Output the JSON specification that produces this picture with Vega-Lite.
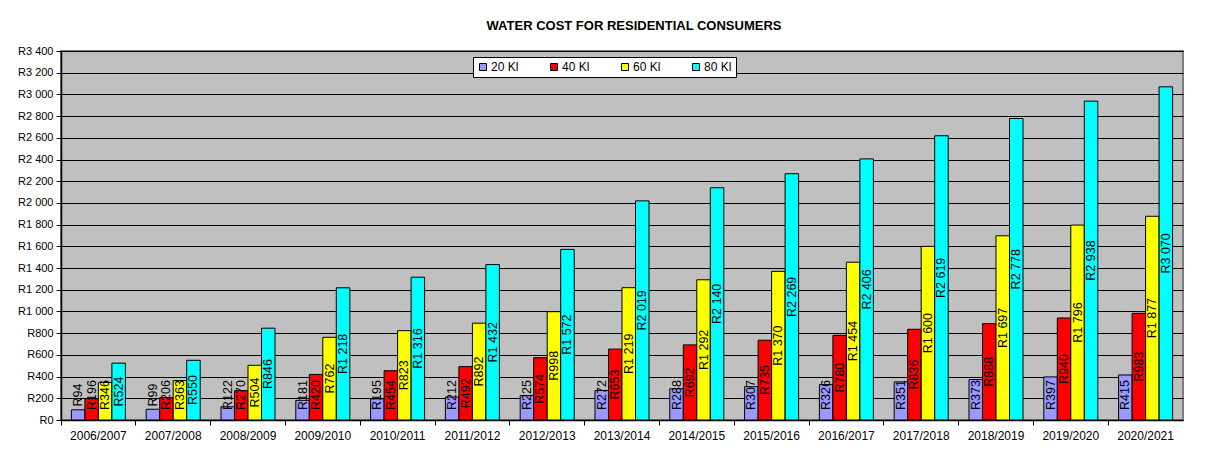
{
  "$schema": "https://vega.github.io/schema/vega-lite/v6.json",
  "width": 1122,
  "height": 369,
  "autosize": {"type": "none"},
  "padding": {"left": 61, "top": 51, "right": 23, "bottom": 44},
  "background": "white",
  "config": {
    "locale": {"number": {"decimal": ".", "thousands": " ", "grouping": [3], "currency": ["R", ""]}},
    "font": "Liberation Sans",
    "view": {"fill": "#C0C0C0", "stroke": "#808080", "strokeWidth": 2},
    "axis": {"labelFont": "Liberation Sans", "labelColor": "black", "domainColor": "black", "tickColor": "black", "domainWidth": 1.5}
  },
  "title": {"text": "WATER COST FOR RESIDENTIAL CONSUMERS", "fontSize": 13, "font": "Liberation Sans", "fontWeight": "bold", "color": "black", "offset": 12, "dx": 12, "anchor": "middle"},
  "data": {"values": [
    {"period": "2006/2007", "series": "20 Kl", "value": 94},
    {"period": "2006/2007", "series": "40 Kl", "value": 196},
    {"period": "2006/2007", "series": "60 Kl", "value": 346},
    {"period": "2006/2007", "series": "80 Kl", "value": 524},
    {"period": "2007/2008", "series": "20 Kl", "value": 99},
    {"period": "2007/2008", "series": "40 Kl", "value": 206},
    {"period": "2007/2008", "series": "60 Kl", "value": 363},
    {"period": "2007/2008", "series": "80 Kl", "value": 550},
    {"period": "2008/2009", "series": "20 Kl", "value": 122},
    {"period": "2008/2009", "series": "40 Kl", "value": 270},
    {"period": "2008/2009", "series": "60 Kl", "value": 504},
    {"period": "2008/2009", "series": "80 Kl", "value": 846},
    {"period": "2009/2010", "series": "20 Kl", "value": 181},
    {"period": "2009/2010", "series": "40 Kl", "value": 420},
    {"period": "2009/2010", "series": "60 Kl", "value": 762},
    {"period": "2009/2010", "series": "80 Kl", "value": 1218},
    {"period": "2010/2011", "series": "20 Kl", "value": 195},
    {"period": "2010/2011", "series": "40 Kl", "value": 454},
    {"period": "2010/2011", "series": "60 Kl", "value": 823},
    {"period": "2010/2011", "series": "80 Kl", "value": 1316},
    {"period": "2011/2012", "series": "20 Kl", "value": 212},
    {"period": "2011/2012", "series": "40 Kl", "value": 492},
    {"period": "2011/2012", "series": "60 Kl", "value": 892},
    {"period": "2011/2012", "series": "80 Kl", "value": 1432},
    {"period": "2012/2013", "series": "20 Kl", "value": 225},
    {"period": "2012/2013", "series": "40 Kl", "value": 574},
    {"period": "2012/2013", "series": "60 Kl", "value": 998},
    {"period": "2012/2013", "series": "80 Kl", "value": 1572},
    {"period": "2013/2014", "series": "20 Kl", "value": 272},
    {"period": "2013/2014", "series": "40 Kl", "value": 653},
    {"period": "2013/2014", "series": "60 Kl", "value": 1219},
    {"period": "2013/2014", "series": "80 Kl", "value": 2019},
    {"period": "2014/2015", "series": "20 Kl", "value": 288},
    {"period": "2014/2015", "series": "40 Kl", "value": 692},
    {"period": "2014/2015", "series": "60 Kl", "value": 1292},
    {"period": "2014/2015", "series": "80 Kl", "value": 2140},
    {"period": "2015/2016", "series": "20 Kl", "value": 307},
    {"period": "2015/2016", "series": "40 Kl", "value": 735},
    {"period": "2015/2016", "series": "60 Kl", "value": 1370},
    {"period": "2015/2016", "series": "80 Kl", "value": 2269},
    {"period": "2016/2017", "series": "20 Kl", "value": 326},
    {"period": "2016/2017", "series": "40 Kl", "value": 780},
    {"period": "2016/2017", "series": "60 Kl", "value": 1454},
    {"period": "2016/2017", "series": "80 Kl", "value": 2406},
    {"period": "2017/2018", "series": "20 Kl", "value": 351},
    {"period": "2017/2018", "series": "40 Kl", "value": 836},
    {"period": "2017/2018", "series": "60 Kl", "value": 1600},
    {"period": "2017/2018", "series": "80 Kl", "value": 2619},
    {"period": "2018/2019", "series": "20 Kl", "value": 373},
    {"period": "2018/2019", "series": "40 Kl", "value": 888},
    {"period": "2018/2019", "series": "60 Kl", "value": 1697},
    {"period": "2018/2019", "series": "80 Kl", "value": 2778},
    {"period": "2019/2020", "series": "20 Kl", "value": 397},
    {"period": "2019/2020", "series": "40 Kl", "value": 940},
    {"period": "2019/2020", "series": "60 Kl", "value": 1796},
    {"period": "2019/2020", "series": "80 Kl", "value": 2938},
    {"period": "2020/2021", "series": "20 Kl", "value": 415},
    {"period": "2020/2021", "series": "40 Kl", "value": 983},
    {"period": "2020/2021", "series": "60 Kl", "value": 1877},
    {"period": "2020/2021", "series": "80 Kl", "value": 3070}
  ]},
  "layer": [
    {
      "mark": {"type": "bar", "stroke": "black", "strokeWidth": 1, "opacity": 1},
      "encoding": {
        "x": {"field": "period", "type": "nominal", "sort": null, "scale": {"paddingInner": 0, "paddingOuter": 0},
              "axis": {"title": null, "labelAngle": 0, "labelFontSize": 12, "bandPosition": 0, "tickSize": 5, "labelPadding": 5, "grid": false, "labelBaseline": "top"}},
        "xOffset": {"field": "series", "type": "nominal", "sort": null, "scale": {"paddingInner": 0, "paddingOuter": 0.77}},
        "y": {"field": "value", "type": "quantitative", "scale": {"domain": [0, 3400], "nice": false},
              "axis": {"title": null, "values": [0, 200, 400, 600, 800, 1000, 1200, 1400, 1600, 1800, 2000, 2200, 2400, 2600, 2800, 3000, 3200, 3400], "format": "$,.0f", "grid": true, "gridColor": "black", "gridOpacity": 1, "gridWidth": 1, "labelFontSize": 11, "tickSize": 5, "labelPadding": 3}},
        "color": {"field": "series", "type": "nominal", "sort": null,
                  "scale": {"domain": ["20 Kl", "40 Kl", "60 Kl", "80 Kl"], "range": ["#9999FF", "#FF0000", "#FFFF00", "#00FFFF"]},
                  "legend": {"orient": "none", "legendX": 412, "legendY": 6, "direction": "horizontal", "columns": 4, "title": null, "fillColor": "white", "strokeColor": "black", "padding": 4, "symbolType": "square", "symbolSize": 49, "symbolStrokeColor": "black", "symbolStrokeWidth": 1, "symbolOpacity": 1, "labelFontSize": 12, "labelFont": "Liberation Sans", "labelColor": "black", "columnPadding": 29, "labelOffset": 2}}
      }
    },
    {
      "mark": {"type": "text", "angle": 270, "fontSize": 12.5, "color": "black", "baseline": "middle", "align": "center", "font": "Liberation Sans"},
      "encoding": {
        "x": {"field": "period", "type": "nominal", "sort": null},
        "xOffset": {"field": "series", "type": "nominal", "sort": null},
        "y": {"field": "value", "type": "quantitative", "scale": {"domain": [460, 6800], "range": [344, 0], "clamp": true, "nice": false, "zero": false}, "axis": null},
        "text": {"field": "value", "type": "quantitative", "format": "$,.0f"}
      }
    }
  ],
  "resolve": {"scale": {"y": "independent"}}
}
